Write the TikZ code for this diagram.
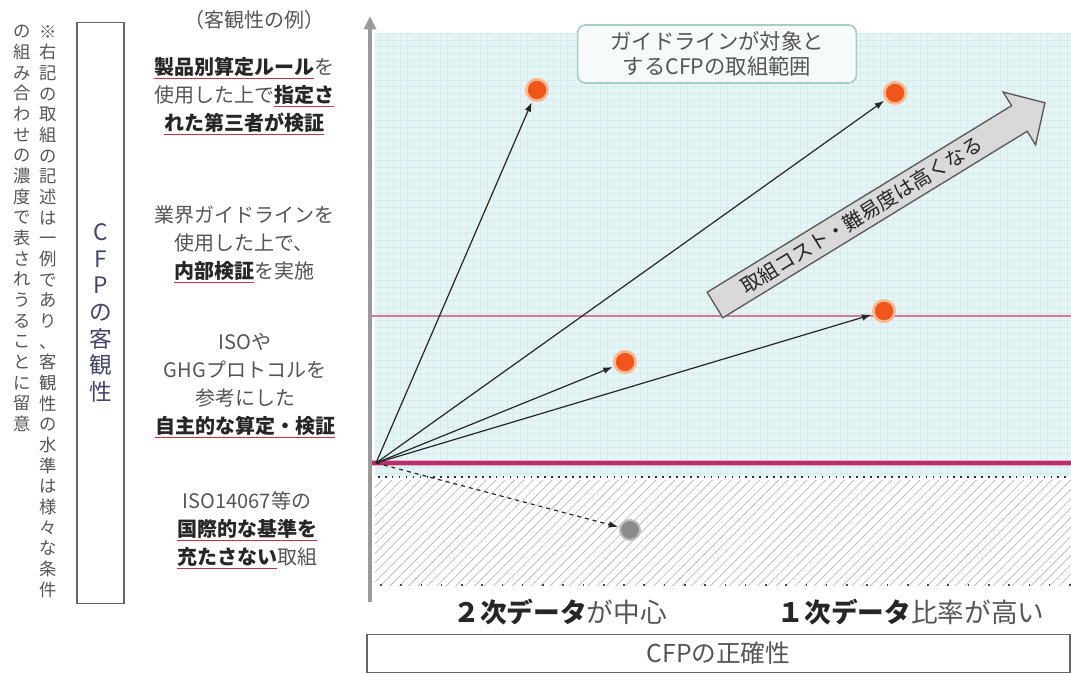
\documentclass[tikz,border=0pt]{standalone}
\usepackage{fontspec}
\setmainfont{Noto Sans CJK JP}
\usepackage{tikz}
\usetikzlibrary{arrows.meta,patterns.meta,positioning}

\definecolor{txtgray}{HTML}{555555}
\definecolor{keyink}{HTML}{262626}
\definecolor{ulred}{HTML}{C8304A}
\definecolor{axisgray}{HTML}{9A9A9A}
\definecolor{zonefill}{HTML}{E5F4F4}
\definecolor{zonegrid}{HTML}{D9ECED}
\definecolor{pinkline}{HTML}{D07A9E}
\definecolor{magline}{HTML}{B3306A}
\definecolor{maghalo}{HTML}{EBAAC3}
\definecolor{dotorange}{HTML}{F0561A}
\definecolor{dothalo}{HTML}{FBB892}
\definecolor{rangefill}{HTML}{F5FBF8}
\definecolor{rangedraw}{HTML}{A6CDC5}
\definecolor{navyink}{HTML}{45456A}

\newcommand{\kw}[1]{{\color{ulred}\underline{\textcolor{keyink}{\textbf{#1}}}}}

\begin{document}
\begin{tikzpicture}[
  x=0.75pt, y=-0.75pt,
  example/.style={font=\fontsize{15}{21}\selectfont, text=txtgray, align=center, inner sep=0pt},
  note/.style={font=\fontsize{13}{15.5}\selectfont, text=txtgray, align=center, inner sep=0pt},
  axlbl/.style={font=\fontsize{20}{24}\selectfont, text=txtgray, inner sep=0pt},
  odot/.style={circle, fill=dotorange, draw=dothalo, line width=2pt, minimum size=16pt, inner sep=0pt},
  gdot/.style={circle, fill=black!45, draw=black!25, line width=1.5pt, minimum size=15pt, inner sep=0pt},
  link/.style={-{Latex[length=7pt,width=5pt]}, line width=0.9pt, black!85, shorten >=1pt},
  axis/.style={line width=3pt, axisgray, -{Triangle[length=10pt,width=9pt]}}
]
  \useasboundingbox (0,0) rectangle (1071,674);

  % zones
  \fill[zonefill] (375,33) rectangle (1071,477);
  \draw[zonegrid, line width=0.25pt, step=5pt] (375,477) grid (1071,33);
  \fill[white] (375,480) rectangle (1071,585);
  \fill[pattern={Lines[angle=45,distance=5pt,line width=0.6pt]}, pattern color=black!25] (375,480) rectangle (1071,585);
  \draw[black!80, line width=1pt, dash pattern=on 1.2pt off 4pt] (378,477) -- (1071,477);
  \draw[black!70, line width=1pt, dash pattern=on 1.2pt off 14pt] (380,585) -- (1071,585);
  \draw[pinkline, line width=2.2pt] (372,316) -- (1071,316);
  \draw[maghalo, line width=5pt] (372,463) -- (1071,463);
  \draw[magline, line width=2.5pt] (372,463) -- (1071,463);

  % axes
  \draw[axis] (370,602) -- (370,16);
  \node[draw=black!60, line width=1.2pt, minimum width=35pt, minimum height=436pt, inner sep=0pt,
        font=\fontsize{17}{20}\selectfont, text=navyink, align=center] (objbox) at (100.5,313)
    {C\\F\\P\\の\\客\\観\\性};
  \node[draw=black!60, line width=1.2pt, minimum width=527pt, minimum height=28.5pt, inner sep=0pt,
        font=\fontsize{18.5}{22}\selectfont, text=txtgray] (accbox) at (718.5,653.5) {CFPの正確性};

  % notes
  \node[note] (n1) at (48,311.5)
    {※\\右\\記\\の\\取\\組\\の\\記\\述\\は\\一\\例\\で\\あ\\り\\、\\客\\観\\性\\の\\水\\準\\は\\様\\々\\な\\条\\件};
  \node[note] (n2) at (22,228.5)
    {の\\組\\み\\合\\わ\\せ\\の\\濃\\度\\で\\表\\さ\\れ\\う\\る\\こ\\と\\に\\留\\意};

  % examples
  \node[example] (ex0) at (254,20) {（客観性の例）};
  \node[example] (ex1) at (244,96) {\kw{製品別算定ルール}を\\使用した上で\kw{指定さ}\\\kw{れた第三者が検証}};
  \node[example] (ex2) at (244,244) {業界ガイドラインを\\使用した上で、\\\kw{内部検証}を実施};
  \node[example] (ex3) at (245,386) {ISOや\\GHGプロトコルを\\参考にした\\\kw{自主的な算定・検証}};
  \node[example] (ex4) at (247,530) {ISO14067等の\\\kw{国際的な基準を}\\\kw{充たさない}取組};

  % x labels
  \node[axlbl] (x2) at (560,612) {\textcolor{keyink}{\textbf{２次データ}}が中心};
  \node[axlbl] (x1) at (911,612) {\textcolor{keyink}{\textbf{１次データ}}比率が高い};

  % range box
  \node[draw=rangedraw, fill=rangefill, line width=1.2pt, rounded corners=6pt,
        minimum width=209pt, minimum height=43.5pt, inner sep=0pt,
        font=\fontsize{16}{19}\selectfont, text=txtgray, align=center] (range) at (717,54)
    {ガイドラインが対象と\\するCFPの取組範囲};

  % cost arrow
  \begin{scope}[shift={(715,305)}, rotate=31.5]
    \fill[black!15, draw=black!65, line width=1pt]
      (0,-15) -- (357,-15) -- (357,-31) -- (387,0) -- (357,31) -- (357,15) -- (0,15) -- cycle;
    \node[rotate=31.5, font=\fontsize{15}{18}\selectfont, text=black!85, inner sep=0pt] (cost) at (172,0)
      {取組コスト・難易度は高くなる};
  \end{scope}

  % points
  \coordinate (o) at (376,463);
  \node[odot] (d1) at (537,90) {};
  \node[odot] (d2) at (895,93) {};
  \node[odot] (d3) at (884,311) {};
  \node[odot] (d4) at (625,362) {};
  \node[gdot] (dg) at (630,530) {};
  \draw[link] (o) -- (d1);
  \draw[link] (o) -- (d2);
  \draw[link] (o) -- (d3);
  \draw[link] (o) -- (d4);
  \draw[link, dashed] (o) -- (dg);
\end{tikzpicture}
\end{document}
